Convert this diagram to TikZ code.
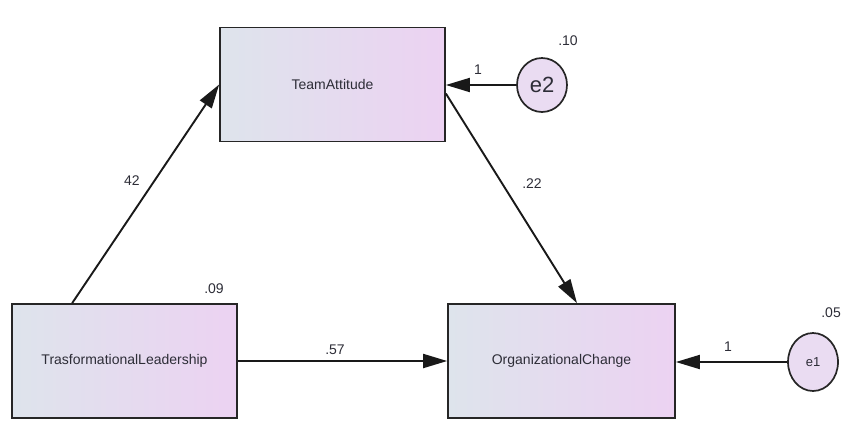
\documentclass[tikz,border=0pt]{standalone}
\usepackage{fontspec}
\setmainfont{Liberation Sans}
\usetikzlibrary{arrows.meta,shapes.geometric}
\definecolor{boxleft}{RGB}{222,228,236}
\definecolor{boxright}{RGB}{236,210,242}
\definecolor{errfill}{RGB}{234,220,242}
\definecolor{txt}{RGB}{45,45,55}
\begin{document}
\begin{tikzpicture}[x=1pt,y=-1pt,
  varbox/.style={draw=black!85, line width=1.7pt, left color=boxleft, right color=boxright,
    minimum width=225pt, minimum height=114pt, inner sep=0pt, text=txt,
    font=\fontsize{14}{16}\selectfont},
  errnode/.style={ellipse, draw=black!85, line width=1.7pt, fill=errfill, inner sep=0pt, text=txt},
  pathline/.style={line width=1.9pt, black!90, -{Triangle[length=24pt,width=14pt]}},
  lbl/.style={font=\fontsize{14}{16}\selectfont, text=txt, inner sep=0pt}]
\useasboundingbox (0,0) rectangle (842,421);
\node[varbox] (TA) at (332.5,84.5) {TeamAttitude};
\node[varbox] (TL) at (124.5,361) {TrasformationalLeadership};
\node[varbox, minimum width=227pt] (OC) at (561.5,361) {OrganizationalChange};
\node[errnode, minimum width=50pt, minimum height=54pt, font=\fontsize{22}{24}\selectfont] (e2) at (542,85) {e2};
\node[errnode, minimum width=50pt, minimum height=58pt, font=\fontsize{13}{15}\selectfont] (e1) at (813,362) {e1};
\draw[pathline] (e2.west) -- (TA.east |- e2.west);
\draw[pathline] (e1.west) -- (OC.east |- e1.west);
\draw[pathline] ([xshift=61pt]TL.north west) -- (TA.west);
\draw[pathline] ([yshift=-9pt]TA.east) -- ([xshift=15.5pt]OC.north);
\draw[pathline] (TL.east) -- (OC.west);
\node[lbl] (l42) at (132,181) {42};
\node[lbl] (l22) at (532,184) {.22};
\node[lbl] (l57) at (335,350) {.57};
\node[lbl] (l1a) at (478,70) {1};
\node[lbl] (l1b) at (728,347) {1};
\node[lbl] (l10) at (568,41) {.10};
\node[lbl] (l09) at (214,289) {.09};
\node[lbl, anchor=east] (l05) at (841,313) {.05};
\end{tikzpicture}
\end{document}
